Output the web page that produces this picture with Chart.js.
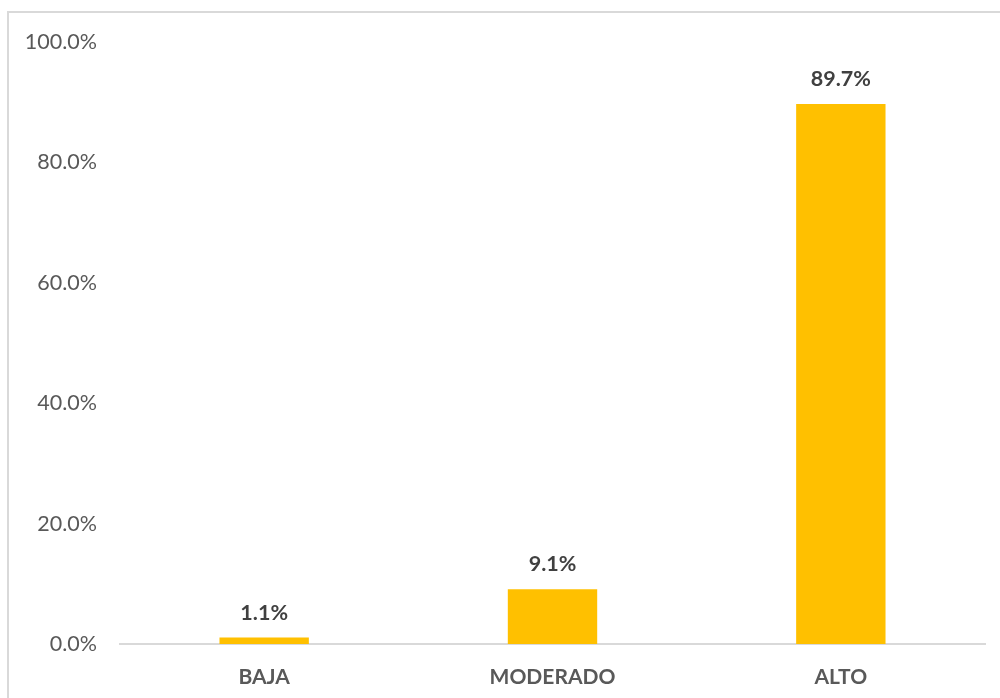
<!DOCTYPE html>
<html>
<head>
<meta charset="utf-8">
<script src="https://cdn.jsdelivr.net/npm/chart.js@4.4.1/dist/chart.umd.min.js"></script>
<style>
  html, body { margin: 0; padding: 0; background: #fff; overflow: hidden; }
  #wrap { position: absolute; left: 0; top: 0; width: 1000px; height: 698px; }
</style>
</head>
<body>
<div id="wrap"><canvas id="chart"></canvas></div>
<script>
// data
const categories = ['BAJA', 'MODERADO', 'ALTO'];
const percentages = [1.1, 9.1, 89.7];
const yTicks = [0, 20, 40, 60, 80, 100];

const FONT = 'Lato, "Open Sans", sans-serif';

// light frame around the whole chart (runs off right/bottom edge like the reference)
const framePlugin = {
  id: 'frame',
  beforeDraw(chart) {
    const ctx = chart.ctx;
    ctx.save();
    ctx.strokeStyle = '#d9d9d9';
    ctx.lineWidth = 2;
    ctx.strokeRect(8, 12, 1010, 710);
    ctx.restore();
  }
};

// value labels above each bar
const valueLabels = {
  id: 'valueLabels',
  afterDatasetsDraw(chart) {
    const ctx = chart.ctx;
    const meta = chart.getDatasetMeta(0);
    ctx.save();
    ctx.font = 'bold 21.5px ' + FONT;
    ctx.fillStyle = '#404040';
    ctx.textAlign = 'center';
    ctx.textBaseline = 'bottom';
    meta.data.forEach((bar, i) => {
      const v = chart.data.datasets[0].data[i];
      ctx.fillText(v.toFixed(1) + '%', bar.x, bar.y - 14);
    });
    ctx.restore();
  }
};

new Chart(document.getElementById('chart'), {
  type: 'bar',
  data: {
    labels: categories,
    datasets: [{
      data: percentages,
      backgroundColor: '#FFC000',
      borderWidth: 0,
      barPercentage: 0.31,
      categoryPercentage: 1
    }]
  },
  options: {
    responsive: true,
    maintainAspectRatio: false,
    animation: false,
    layout: { padding: { top: 42, right: 15, bottom: 0, left: 0 } },
    plugins: {
      legend: { display: false },
      tooltip: { enabled: false }
    },
    scales: {
      x: {
        grid: { display: false, drawTicks: false },
        border: { display: true, color: '#d9d9d9', width: 2 },
        ticks: {
          color: '#595959',
          font: { family: FONT, size: 21, weight: 'bold' },
          padding: 21
        },
        afterFit(scale) { scale.height = 54; }
      },
      y: {
        min: 0,
        max: 100,
        grid: { display: false, drawTicks: false },
        border: { display: false },
        afterBuildTicks(scale) { scale.ticks = yTicks.map(v => ({ value: v })); },
        ticks: {
          color: '#595959',
          font: { family: FONT, size: 21.5 },
          padding: 23,
          callback: v => v.toFixed(1) + '%'
        },
        afterFit(scale) { scale.width = 120; }
      }
    }
  },
  plugins: [framePlugin, valueLabels]
});
</script>
</body>
</html>
